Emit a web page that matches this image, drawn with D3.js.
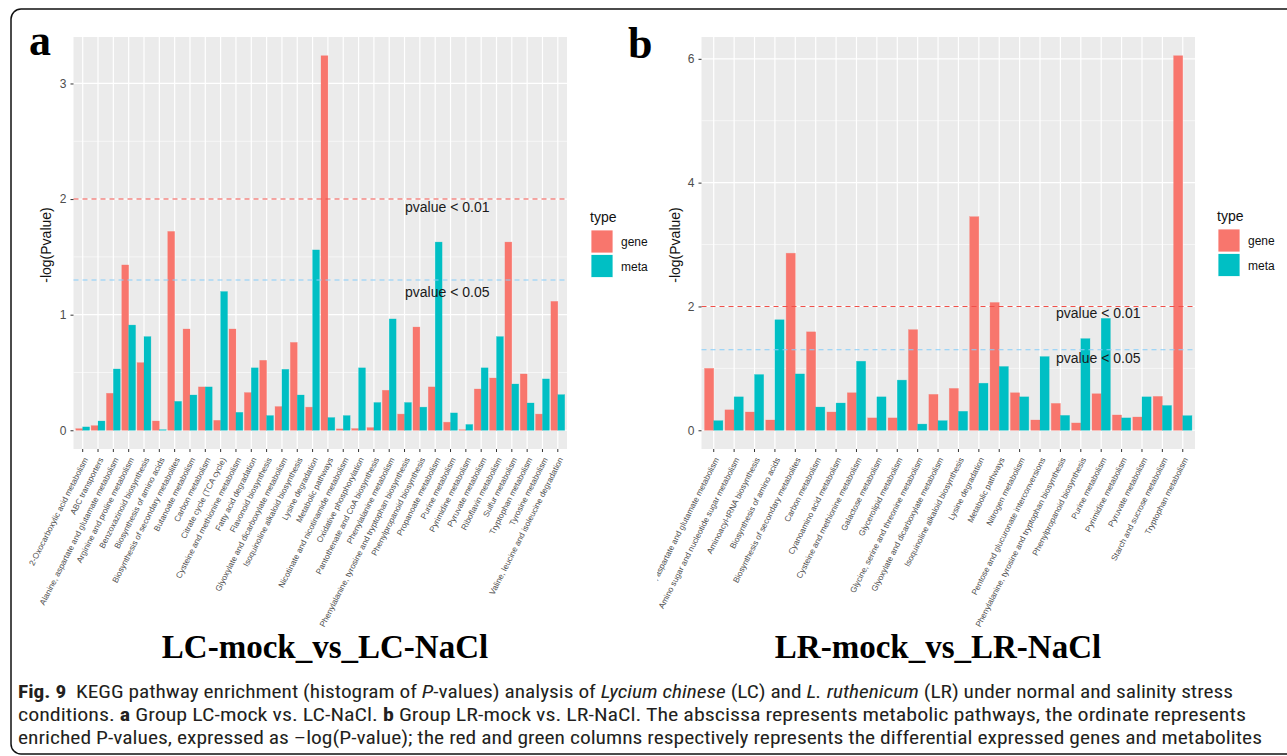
<!DOCTYPE html>
<html>
<head>
  <meta charset="utf-8" />
  <script src="https://d3js.org/d3.v7.min.js"></script>
  <style>
    body { margin: 0; background: #fff; }
    svg { display: block; font-family: "Liberation Sans", Arial, sans-serif; }
    .grid line { stroke: #fff; }
  </style>
</head>
<body>
<svg id="fig" width="1287" height="756"></svg>
<script>
  // ---- data ----
  const catsA = ["2-Oxocarboxylic acid metabolism", "ABC transporters", "Alanine, aspartate and glutamate metabolism",
    "Arginine and proline metabolism", "Benzoxazinoid biosynthesis", "Biosynthesis of amino acids",
    "Biosynthesis of secondary metabolites", "Butanoate metabolism", "Carbon metabolism", "Citrate cycle (TCA cycle)",
    "Cysteine and methionine metabolism", "Fatty acid degradation", "Flavonoid biosynthesis",
    "Glyoxylate and dicarboxylate metabolism", "Isoquinoline alkaloid biosynthesis", "Lysine degradation",
    "Metabolic pathways", "Nicotinate and nicotinamide metabolism", "Oxidative phosphorylation",
    "Pantothenate and CoA biosynthesis", "Phenylalanine metabolism", "Phenylalanine, tyrosine and tryptophan biosynthesis",
    "Phenylpropanoid biosynthesis", "Propanoate metabolism", "Purine metabolism", "Pyrimidine metabolism",
    "Pyruvate metabolism", "Riboflavin metabolism", "Sulfur metabolism", "Tryptophan metabolism",
    "Tyrosine metabolism", "Valine, leucine and isoleucine degradation"];
  const geneA = [0.014, 0.04, 0.32, 1.43, 0.585, 0.08, 1.72, 0.876, 0.375, 0.086, 0.876, 0.326, 0.605, 0.205, 0.76, 0.2,
    3.24, 0.012, 0.015, 0.023, 0.346, 0.14, 0.893, 0.375, 0.07, 0.005, 0.357, 0.452, 1.628, 0.487, 0.14, 1.115];
  const metaA = [0.029, 0.08, 0.53, 0.91, 0.81, 0.005, 0.25, 0.305, 0.375, 1.2, 0.155, 0.54, 0.127, 0.527, 0.305, 1.56,
    0.11, 0.127, 0.54, 0.24, 0.963, 0.24, 0.2, 1.628, 0.15, 0.05, 0.54, 0.81, 0.4, 0.236, 0.444, 0.308];

  const catsB = ["Alanine, aspartate and glutamate metabolism", "Amino sugar and nucleotide sugar metabolism",
    "Aminoacyl-tRNA biosynthesis", "Biosynthesis of amino acids", "Biosynthesis of secondary metabolites",
    "Carbon metabolism", "Cyanoamino acid metabolism", "Cysteine and methionine metabolism", "Galactose metabolism",
    "Glycerolipid metabolism", "Glycine, serine and threonine metabolism", "Glyoxylate and dicarboxylate metabolism",
    "Isoquinoline alkaloid biosynthesis", "Lysine degradation", "Metabolic pathways", "Nitrogen metabolism",
    "Pentose and glucuronate interconversions", "Phenylalanine, tyrosine and tryptophan biosynthesis",
    "Phenylpropanoid biosynthesis", "Purine metabolism", "Pyrimidine metabolism", "Pyruvate metabolism",
    "Starch and sucrose metabolism", "Tryptophan metabolism"];
  const geneB = [1.0, 0.33, 0.295, 0.166, 2.86, 1.59, 0.295, 0.606, 0.2, 0.2, 1.625, 0.58,
    0.676, 3.45, 2.064, 0.606, 0.166, 0.434, 0.118, 0.59, 0.247, 0.214, 0.547, 6.05];
  const metaB = [0.155, 0.54, 0.9, 1.785, 0.91, 0.375, 0.44, 1.115, 0.54, 0.81, 0.1, 0.155,
    0.306, 0.76, 1.03, 0.54, 1.19, 0.24, 1.48, 1.807, 0.2, 0.54, 0.4, 0.236];

  const types = ["gene", "meta"];
  const typeColors = ["#F8766D", "#00BFC4"];
  const ticksA = [0, 1, 2, 3];
  const ticksB = [0, 2, 4, 6];
  const thresholds = [2, 1.3];
  const thresholdLabels = ["pvalue < 0.01", "pvalue < 0.05"];

  const svg = d3.select("#fig");
  const color = d3.scaleOrdinal().domain(types).range(typeColors);

  // frame of the figure
  svg.append("rect")
    .attr("x", 11).attr("y", 9).attr("width", 1320).attr("height", 745)
    .attr("rx", 10).attr("fill", "none").attr("stroke", "#111").attr("stroke-width", 1.5);

  function drawPanel(opt) {
    const g = svg.append("g");
    const { x0, x1, y0, y1 } = opt;
    const rows = opt.cats.map((c, i) => ({ cat: c, gene: opt.gene[i], meta: opt.meta[i] }));
    const maxV = d3.max(rows, d => Math.max(d.gene, d.meta));

    const x = d3.scaleBand().domain(opt.cats).range([x0, x1]).paddingInner(0.1).paddingOuter(0.15);
    const xSub = d3.scaleBand().domain(types).range([0, x.bandwidth()]);
    const y = d3.scaleLinear().domain([-0.05 * maxV, 1.05 * maxV]).range([y1, y0]);
    const center = c => x(c) + x.bandwidth() / 2;

    g.append("rect").attr("x", x0).attr("y", y0).attr("width", x1 - x0).attr("height", y1 - y0)
      .attr("fill", "#EBEBEB");

    // grid
    const grid = g.append("g").attr("class", "grid");
    const step = opt.ticks[1] - opt.ticks[0];
    const minor = opt.ticks.map(t => t + step / 2).filter(t => y(t) > y0);
    grid.selectAll(".minor").data(minor).join("line")
      .attr("x1", x0).attr("x2", x1).attr("y1", d => y(d)).attr("y2", d => y(d)).attr("stroke-width", 0.6);
    grid.selectAll(".majorY").data(opt.ticks).join("line").attr("class", "majorY")
      .attr("x1", x0).attr("x2", x1).attr("y1", d => y(d)).attr("y2", d => y(d)).attr("stroke-width", 1.2);
    grid.selectAll(".majorX").data(opt.cats).join("line").attr("class", "majorX")
      .attr("x1", d => center(d)).attr("x2", d => center(d)).attr("y1", y0).attr("y2", y1).attr("stroke-width", 1.2);

    // bars
    const bars = [];
    rows.forEach(r => types.forEach(t => bars.push({ cat: r.cat, type: t, v: r[t] })));
    g.append("g").selectAll("rect").data(bars).join("rect")
      .attr("x", d => x(d.cat) + xSub(d.type))
      .attr("width", xSub.bandwidth())
      .attr("y", d => y(d.v))
      .attr("height", d => y(0) - y(d.v))
      .attr("fill", d => color(d.type))
      .attr("stroke", d => color(d.type)).attr("stroke-opacity", 0.45).attr("stroke-width", 0.6);

    // threshold lines
    g.append("line").attr("x1", x0).attr("x2", x1).attr("y1", y(thresholds[0])).attr("y2", y(thresholds[0]))
      .attr("stroke", "#F0504A").attr("stroke-width", 1.1).attr("stroke-dasharray", "5,4");
    g.append("line").attr("x1", x0).attr("x2", x1).attr("y1", y(thresholds[1])).attr("y2", y(thresholds[1]))
      .attr("stroke", "#87CEFA").attr("stroke-width", 1.1).attr("stroke-dasharray", "5,4");
    thresholdLabels.forEach((lab, i) => {
      g.append("text").attr("x", opt.labX).attr("y", y(thresholds[i]) + opt.labDy[i])
        .attr("font-size", 14).attr("fill", "#1a1a1a").text(lab);
    });

    // y axis
    const yAxis = g.append("g").attr("transform", `translate(${x0},0)`)
      .call(d3.axisLeft(y).tickValues(opt.ticks).tickSize(3).tickPadding(4).tickFormat(d3.format("d")));
    yAxis.select(".domain").remove();
    yAxis.selectAll("line").attr("stroke", "#333");
    yAxis.selectAll("text").attr("font-size", 12).attr("fill", "#4D4D4D").attr("font-family", "Liberation Sans, Arial");

    g.append("text")
      .attr("transform", `translate(${opt.yTitleX},${(y0 + y1) / 2 + 2})rotate(-90)`)
      .attr("text-anchor", "middle").attr("font-size", 14).attr("fill", "#111").text("-log(Pvalue)");

    // x axis
    const xg = g.append("g");
    if (opt.clipX) {
      svg.append("clipPath").attr("id", opt.clipX.id).append("rect")
        .attr("x", opt.clipX.left).attr("y", 0).attr("width", 1287).attr("height", 756);
      xg.attr("clip-path", `url(#${opt.clipX.id})`);
    }
    xg.attr("transform", `translate(0,${y1})`)
      .call(d3.axisBottom(x).tickSize(3).tickPadding(2).tickSizeOuter(0));
    xg.select(".domain").remove();
    xg.selectAll(".tick line").attr("stroke", "#333");
    xg.selectAll(".tick text")
      .attr("font-size", 8.2).attr("fill", "#4D4D4D").attr("font-family", "Liberation Sans, Arial")
      .attr("text-anchor", "end").attr("dy", "0.35em")
      .attr("transform", "translate(3,9)rotate(-63)").attr("y", 0).attr("x", 0);

    // legend
    const lg = g.append("g").attr("transform", `translate(${opt.legX},${opt.legY})`);
    lg.append("text").attr("x", 0).attr("y", 0).attr("font-size", 14).attr("fill", "#111").text("type");
    types.forEach((t, i) => {
      lg.append("rect").attr("x", 1).attr("y", 8 + i * 24.5).attr("width", 22).attr("height", 23)
        .attr("fill", color(t)).attr("stroke", "#fff").attr("stroke-width", 0.8);
      lg.append("text").attr("x", 31).attr("y", 24 + i * 24.5).attr("font-size", 12).attr("fill", "#111").text(t);
    });

    // panel letter and title
    svg.append("text").attr("x", opt.letterX).attr("y", opt.letterY)
      .attr("font-family", "Liberation Serif, Times New Roman, serif").attr("font-weight", "bold")
      .attr("font-size", 44).attr("fill", "#000").text(opt.letter);
    svg.append("text").attr("x", opt.titleX).attr("y", 658).attr("text-anchor", "middle")
      .attr("font-family", "Liberation Serif, Times New Roman, serif").attr("font-weight", "bold")
      .attr("font-size", 33).attr("fill", "#000").text(opt.title);
  }

  drawPanel({
    cats: catsA, gene: geneA, meta: metaA, ticks: ticksA,
    x0: 73.5, x1: 567, y0: 37, y1: 449,
    labX: 405, labDy: [13, 17], yTitleX: 51,
    legX: 590, legY: 222, letter: "a", letterX: 29, letterY: 55,
    title: "LC-mock_vs_LC-NaCl", titleX: 325
  });
  drawPanel({
    cats: catsB, gene: geneB, meta: metaB, ticks: ticksB,
    x0: 701.5, x1: 1195, y0: 37, y1: 449,
    labX: 1056, labDy: [12, 13], yTitleX: 680,
    legX: 1217, legY: 221, letter: "b", letterX: 628, letterY: 58,
    title: "LR-mock_vs_LR-NaCl", titleX: 938,
    clipX: { id: "clipB", left: 657 }
  });

  // caption
  const cap = svg.append("g")
    .attr("font-family", "Liberation Sans Narrow, Roboto Condensed, Liberation Sans, sans-serif")
    .attr("font-size", 18).attr("fill", "#231F20");
  const lines = [
    { y: 698, w: 1215, parts: [["Fig. 9", "b"], ["  KEGG pathway enrichment (histogram of ", ""], ["P", "i"],
      ["-values) analysis of ", ""], ["Lycium chinese", "i"], [" (LC) and ", ""], ["L. ruthenicum", "i"],
      [" (LR) under normal and salinity stress", ""]] },
    { y: 721, w: 1228, parts: [["conditions. ", ""], ["a", "b"], [" Group LC-mock vs. LC-NaCl. ", ""], ["b", "b"],
      [" Group LR-mock vs. LR-NaCl. The abscissa represents metabolic pathways, the ordinate represents", ""]] },
    { y: 744, w: 1244, parts: [["enriched P-values, expressed as \u2013log(P-value); the red and green columns respectively represents the differential expressed genes and metabolites", ""]] }
  ];
  lines.forEach(l => {
    const t = cap.append("text").attr("x", 18).attr("y", l.y)
      .attr("textLength", l.w).attr("lengthAdjust", "spacingAndGlyphs").attr("xml:space", "preserve");
    l.parts.forEach(p => {
      t.append("tspan").text(p[0])
        .attr("font-weight", p[1] === "b" ? "bold" : null)
        .attr("font-style", p[1] === "i" ? "italic" : null);
    });
  });
</script>
</body>
</html>
